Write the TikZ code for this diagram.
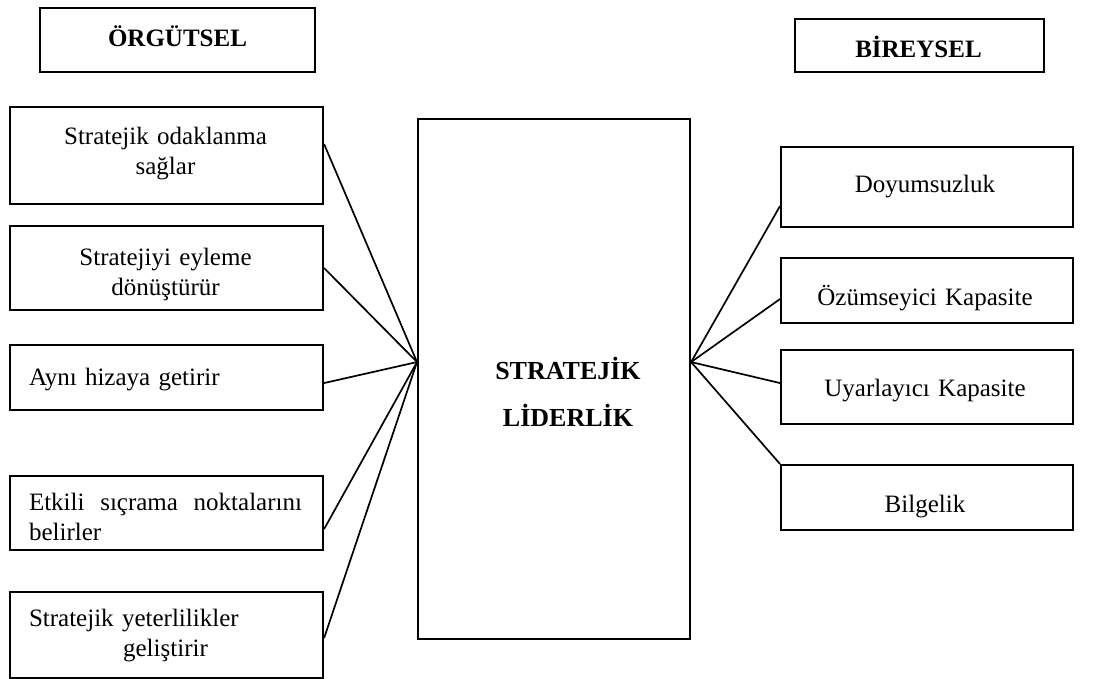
\documentclass[tikz,border=0pt]{standalone}
\usepackage{fontspec}
\setmainfont{Liberation Serif}
\usetikzlibrary{positioning}

\tikzset{
  box/.style={draw=black, line width=2.1pt, rectangle, inner sep=0pt, anchor=north west},
  link/.style={draw=black, line width=1.7pt},
  txt/.style={anchor=base, inner sep=0pt, text width=#1, font=\fontsize{25}{30}\selectfont},
  head/.style={anchor=base, inner sep=0pt, text width=300pt, align=center, font=\fontsize{25}{30}\selectfont\bfseries},
}

\begin{document}
\begin{tikzpicture}[x=1pt, y=-1pt]
\useasboundingbox (0,0) rectangle (1099,679);

% column headings
\node[box, minimum width=275pt, minimum height=64pt] (hL) at (39,7) {};
\node[head] (hLt) at (177.5,47) {ÖRGÜTSEL};
\node[box, minimum width=249pt, minimum height=53pt] (hR) at (794,18) {};
\node[head] (hRt) at (918.5,58) {BİREYSEL};

% central box
\node[box, minimum width=272pt, minimum height=520pt] (c) at (417,118) {};
\node[anchor=base, inner sep=0pt, text width=272pt, align=center,
      font=\fontsize{26}{47}\selectfont\bfseries] (ct) at (568,379) {STRATEJİK\\LİDERLİK};

% organisational side
\node[box, minimum width=313pt, minimum height=97pt] (b1) at (9,106) {};
\node[txt=313pt, align=center] (t1) at (165.5,145) {Stratejik odaklanma\\sağlar};
\node[box, minimum width=313pt, minimum height=84pt] (b2) at (9,225) {};
\node[txt=313pt, align=center] (t2) at (165.5,265) {Stratejiyi eyleme\\dönüştürür};
\node[box, minimum width=313pt, minimum height=65pt] (b3) at (9,344) {};
\node[txt=273pt, align=left] (t3) at (165.5,385) {Aynı hizaya getirir};
\node[box, minimum width=313pt, minimum height=74pt] (b4) at (9,475) {};
\node[txt=273pt, align=left] (t4) at (165.5,510)
  {\makebox[\linewidth][l]{Etkili\hfill sıçrama\hfill noktalarını}\\belirler};
\node[box, minimum width=313pt, minimum height=86pt] (b5) at (9,591) {};
\node[txt=273pt, align=left] (t5) at (165.5,626)
  {Stratejik yeterlilikler\\\makebox[\linewidth][c]{geliştirir}};

% individual side
\node[box, minimum width=292pt, minimum height=80pt] (r1) at (780,146) {};
\node[txt=292pt, align=center] (s1) at (925,192) {Doyumsuzluk};
\node[box, minimum width=292pt, minimum height=65pt] (r2) at (780,257) {};
\node[txt=292pt, align=center] (s2) at (925,305) {Özümseyici Kapasite};
\node[box, minimum width=292pt, minimum height=74pt] (r3) at (780,349) {};
\node[txt=292pt, align=center] (s3) at (925,396) {Uyarlayıcı Kapasite};
\node[box, minimum width=292pt, minimum height=65pt] (r4) at (780,464) {};
\node[txt=292pt, align=center] (s4) at (925,512) {Bilgelik};

% connectors
\coordinate (hubL) at ([yshift=17pt]c.west);
\coordinate (hubR) at ([yshift=17pt]c.east);
\draw[link] ([yshift=11.5pt]b1.east) -- (hubL);
\draw[link] (b2.east) -- (hubL);
\draw[link] ([yshift=-5.5pt]b3.east) -- (hubL);
\draw[link] ([yshift=-16pt]b4.east) -- (hubL);
\draw[link] ([yshift=-3pt]b5.east) -- (hubL);
\draw[link] ([yshift=-19pt]r1.west) -- (hubR);
\draw[link] ([yshift=-8.5pt]r2.west) -- (hubR);
\draw[link] ([yshift=4pt]r3.west) -- (hubR);
\draw[link] (r4.north west) -- (hubR);
\end{tikzpicture}
\end{document}
